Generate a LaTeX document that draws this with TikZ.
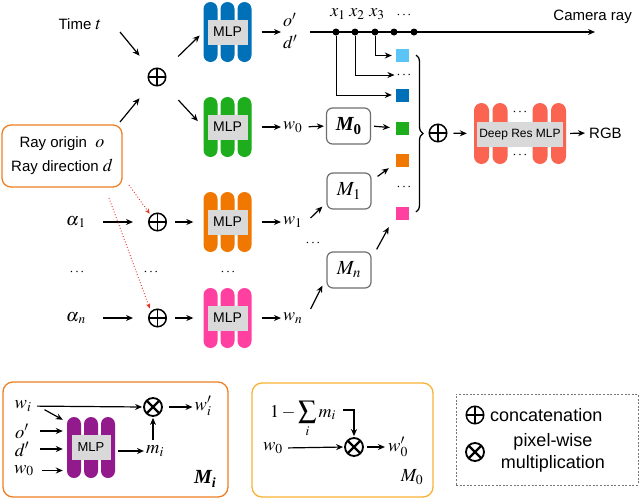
\documentclass[tikz,border=0pt]{standalone}
\usepackage{mathptmx}
\usepackage[no-math]{fontspec}
\setsansfont{Liberation Sans}
\newfontfamily\tbi{Liberation Serif}
\usetikzlibrary{arrows.meta,decorations.pathreplacing}
\definecolor{cblue}{HTML}{0070B8}
\definecolor{cgreen}{HTML}{1DAD1D}
\definecolor{corange}{HTML}{F07800}
\definecolor{cpink}{HTML}{FF40A0}
\definecolor{cpurple}{HTML}{931A8C}
\definecolor{csalmon}{HTML}{FA6450}
\definecolor{clblue}{HTML}{5BC5F7}
\definecolor{cgray}{HTML}{D9D9D9}
\definecolor{cbox}{HTML}{EF7F22}
\definecolor{cyel}{HTML}{F9B233}
\definecolor{cred}{HTML}{E83228}
\definecolor{cmbox}{HTML}{6F6F6F}
\definecolor{clegend}{HTML}{777777}
\newcommand\mv[1]{{\fontsize{18}{20}\selectfont$#1$}}
\newcommand\mlpblk[5]{%
  \foreach \dx in {-17,0,17}{\fill[#4, rounded corners=7pt] ({#2+\dx-7},{#3-#5/2}) rectangle ({#2+\dx+7},{#3+#5/2});}
  \node[graybox] (#1g) at (#2,#3) {MLP};
  \node[inner sep=0, minimum width=48pt, minimum height=#5pt] (#1) at (#2,#3) {};
}
\begin{document}
\begin{tikzpicture}[x=1pt,y=-1pt,
  arr/.style={-{Stealth[length=7pt,width=6pt]}, line width=1.2pt},
  redarr/.style={-{Stealth[length=5pt,width=4.5pt]}, draw=cred, line width=0.9pt, dotted},
  sf/.style={font=\sffamily\fontsize{15}{18}\selectfont, inner sep=1pt},
  mth/.style={font=\fontsize{18}{20}\selectfont, inner sep=0pt},
  mbot/.style={font=\fontsize{18.5}{20}\selectfont, inner sep=0pt},
  graybox/.style={fill=cgray, minimum width=40pt, minimum height=25pt, inner sep=0, font=\sffamily\fontsize{14}{16}\selectfont},
  sq/.style={minimum size=13pt, inner sep=0},
  raydot/.style={circle, fill=black, minimum size=7pt, inner sep=0},
  mbox/.style={draw=cmbox, line width=1.2pt, rounded corners=6pt, minimum width=44pt, minimum height=36pt, inner sep=0, font=\fontsize{20}{24}\selectfont},
  plus/.style={circle, draw, line width=1.5pt, minimum size=17.5pt, inner sep=0,
    path picture={\draw[line width=1.5pt] (path picture bounding box.north) -- (path picture bounding box.south) (path picture bounding box.west) -- (path picture bounding box.east);}},
  otimes/.style={circle, draw, line width=1.8pt, minimum size=18pt, inner sep=0,
    path picture={\draw[line width=2.4pt] ([shift={(-7pt,-7pt)}]path picture bounding box.center) -- ([shift={(7pt,7pt)}]path picture bounding box.center) ([shift={(-7pt,7pt)}]path picture bounding box.center) -- ([shift={(7pt,-7pt)}]path picture bounding box.center);}},
  dotsn/.style={font=\fontsize{14}{14}\selectfont, inner sep=0, text height=7pt, text depth=0pt},
  panel/.style={line width=1.3pt, rounded corners=10pt, inner sep=0}
]
\useasboundingbox[fill=white] (0,0) rectangle (640,499);

% ---------- top: time / ray ----------
\node[sf] (time) at (80,24) {Time~\mv{t}};
\coordinate (tA) at (120,32);
\node[plus] (c0) at (157,77) {};
\node[draw=cbox, line width=1.3pt, rounded corners=9pt, minimum width=120pt, minimum height=62pt, align=center, inner sep=0,
  font=\sffamily\fontsize{15}{24}\selectfont] (ray) at (62,156) {Ray origin~~\mv{o}\\Ray direction~\mv{d}};
\coordinate (rA) at (120,122);
\draw[arr, shorten >=18] (tA) -- (c0);
\draw[arr, shorten >=18] (rA) -- (c0);

\mlpblk{blue}{227.5}{32}{cblue}{60}
\mlpblk{green}{227.5}{127}{cgreen}{60}
\draw[arr, shorten <=20, shorten >=5] (c0) -- (blue.west);
\draw[arr, shorten <=22, shorten >=8] (c0) -- (green.west);

\node[mth, anchor=west, align=left, font=\fontsize{18}{22}\selectfont] (od) at (283,31) {$o'$\\$d'$};
\draw[arr, shorten <=10, shorten >=2] (blue.east) -- (blue.east -| od.west);
\node[mth, anchor=west] (w0) at (283,127) {$w_0$};
\draw[arr, shorten <=10, shorten >=2] (green.east) -- (w0.west);

% ---------- camera ray ----------
\coordinate (rayS) at (310,32);
\coordinate (rayE) at (595,32);
\draw[arr] (rayS) -- (rayE);
\node[sf, anchor=east] (cam) at (633,17) {Camera ray};
\node[raydot] (p1) at (336,32) {};
\node[raydot] (p2) at (355,32) {};
\node[raydot] (p3) at (375,32) {};
\node[raydot] (p4) at (394,32) {};
\node[raydot] (p5) at (414,32) {};
\node[mth] (lx1) at (338,14) {$x_1$};
\node[mth] (lx2) at (357,14) {$x_2$};
\node[mth] (lx3) at (377,14) {$x_3$};
\node[dotsn] (ldots) at (404,15) {$\cdots$};

% ---------- squares ----------
\node[sq, fill=clblue] (sqa) at (402.5,55.5) {};
\node[dotsn] (dd1) at (404,75) {$\cdots$};
\node[sq, fill=cblue] (sqb) at (402.5,95) {};
\node[sq, fill=cgreen] (sqc) at (402.5,128) {};
\node[sq, fill=corange] (sqd) at (402.5,160.5) {};
\node[dotsn] (dd2) at (404,187) {$\cdots$};
\node[sq, fill=cpink] (sqe) at (402.5,213.5) {};
\draw[arr, line width=1pt, shorten >=4] (p3) |- (sqa.west);
\draw[arr, line width=1pt, shorten >=2] (p2) |- (dd1.west);
\draw[arr, line width=1pt, shorten >=4] (p1) |- (sqb.west);

% ---------- M boxes ----------
\node[mbox] (M0) at (348.5,126) {{\tbi\bfseries\itshape M\raisebox{-3.5pt}{\fontsize{15}{15}\selectfont\upshape 0}}};
\node[mbox] (M1) at (349,191) {$M_1$};
\node[mbox] (Mn) at (349,270) {$M_n$};
\draw[arr, shorten <=6, shorten >=2] (w0.east) -- (M0.west);
\draw[arr, shorten <=3, shorten >=6] (M0.east) -- (sqc.west);
\draw[arr] ([shift={(6,4)}]M1.north east) -- ([shift={(-7,1)}]sqd.south west);
\draw[arr] ([shift={(5,-2)}]Mn.north east) -- ([shift={(-7,7)}]sqe.south west);

% brace and concatenation
\draw[line width=1.3pt, decorate, decoration={brace, amplitude=7pt}] (416,55) -- (416,212);
\node[plus] (cR) at (438,133) {};

% deep res MLP
\foreach \bx in {481.5,500,540,558.5}{\fill[csalmon, rounded corners=7.5pt] ({\bx-7.5},103) rectangle ({\bx+7.5},164);}
\node[fill=cgray, minimum width=86pt, minimum height=25pt, inner sep=0, font=\sffamily\fontsize{12}{14}\selectfont] (deepg) at (520,134.5) {Deep Res MLP};
\node[inner sep=0, minimum width=92pt, minimum height=61pt] (deep) at (520,133.5) {};
\node[dotsn] (ddt) at (520,112) {$\cdots$};
\node[dotsn] (ddb) at (520,155) {$\cdots$};
\node[sf, anchor=west] (rgb) at (588,133) {RGB};
\draw[arr, shorten <=6, shorten >=7] (cR) -- (deep.west);
\draw[arr, shorten <=4, shorten >=3] (deep.east) -- (rgb.west);

% ---------- alpha rows ----------
\node[mth] (a1) at (76,222) {$\alpha_{\kern1.2pt 1}$};
\node[plus] (c1) at (157.5,222) {};
\mlpblk{orange}{227.5}{222}{corange}{60}
\node[mth, anchor=west] (w1) at (283,222) {$w_1$};
\draw[arr, shorten <=17, shorten >=15] (a1.east) -- (c1);
\draw[arr, shorten <=8, shorten >=10] (c1) -- (orange.west);
\draw[arr, shorten <=10, shorten >=2] (orange.east) -- (w1.west);

\node[mth] (an) at (76,318) {$\alpha_{\kern1.2pt n}$};
\node[plus] (c2) at (157.5,318) {};
\mlpblk{pink}{227.5}{318}{cpink}{60}
\node[mth, anchor=west] (wn) at (283,318) {$w_n$};
\draw[arr, shorten <=17, shorten >=15] (an.east) -- (c2);
\draw[arr, shorten <=8, shorten >=10] (c2) -- (pink.west);
\draw[arr, shorten <=10, shorten >=2] (pink.east) -- (wn.west);

\draw[arr] ([shift={(8,-4)}]w1.east) -- ([shift={(-4,-3)}]M1.south west);
\draw[arr] ([shift={(8,-9)}]wn.east) -- ([shift={(-4,-3)}]Mn.south west);

\node[dotsn] (r1) at (77,272) {$\cdots$};
\node[dotsn] (r2) at (151,272) {$\cdots$};
\node[dotsn] (r3) at (228,272) {$\cdots$};
\node[dotsn] (r4) at (313,243) {$\cdots$};

% red dotted arrows
\coordinate (q1) at (129,185);
\coordinate (q2) at (109,198);
\draw[redarr, shorten >=2] (q1) -- (c1.north west);
\draw[redarr, shorten >=3] (q2) -- (c2.north west);

% ---------- panel M_i ----------
\node[panel, draw=cbox, minimum width=225pt, minimum height=115pt] (pMi) at (115.5,439.5) {};
\node[mbot] (wi) at (23,406) {$w_i$};
\node[mbot] (ob) at (22,431) {$o'$};
\node[mbot] (db) at (22,449) {$d'$};
\node[mbot] (w0b) at (24,470.5) {$w_0$};
\foreach \dx in {-17,0,17}{\fill[cpurple, rounded corners=7pt] ({91+\dx-7},417) rectangle ({91+\dx+7},478);}
\node[graybox, minimum width=39pt, font=\sffamily\fontsize{13}{15}\selectfont] (pmg) at (91,447.5) {MLP};
\node[inner sep=0, minimum width=48pt, minimum height=61pt] (pm) at (91,447.5) {};
\node[otimes] (x1) at (153,407) {};
\node[mbot] (mi) at (155,451) {$m_i$};
\node[mbot] (wip) at (203,406) {$w_i'$};
\node[inner sep=0] (Mil) at (205,479) {{\tbi\bfseries\itshape\fontsize{20}{24}\selectfont M\raisebox{-3.5pt}{\fontsize{14}{14}\selectfont i}}};
\draw[arr, shorten <=14, shorten >=1] (wi.center) -- (x1.west);
\draw[arr] ([shift={(13,-2)}]wi.south east) -- ([shift={(-4,3)}]pm.north west);
\draw[arr, shorten <=18, shorten >=4] (ob.center) -- (ob -| pm.west);
\draw[arr, shorten <=18, shorten >=4] (db.center) -- (db -| pm.west);
\draw[arr, shorten <=18, shorten >=4] (w0b.center) -- (w0b -| pm.west);
\draw[arr, shorten <=3, shorten >=2] (pm.east |- mi.west) -- (mi.west);
\draw[arr, shorten <=5, shorten >=1] (x1 |- mi.north) -- (x1.south);
\draw[arr, shorten <=6, shorten >=2] (x1.east) -- (wip.west |- x1);

% ---------- panel M_0 ----------
\node[panel, draw=cyel, minimum width=181pt, minimum height=114pt] (pM0) at (342.5,440) {};
\node[mth, anchor=base, font=\fontsize{18}{22}\selectfont] (sum) at (303,417) {$1-\displaystyle\sum_i m_i$};
\coordinate (sumE) at (343,410);
\node[otimes] (x2) at (354,447) {};
\node[mbot] (w0c) at (273,448) {$w_0$};
\node[mbot] (w0p) at (398,447) {$w_0'$};
\node[mbot] (M0l) at (412,477) {$M_0$};
\draw[arr, shorten >=1] (sumE) -| (x2.north);
\draw[arr, shorten <=5, shorten >=1] (w0c.east) -- (x2.west);
\draw[arr, shorten <=3, shorten >=3] (x2.east) -- (w0p.west |- x2);

% ---------- legend ----------
\node[draw=clegend, line width=1pt, dash pattern=on 2pt off 1.6pt, minimum width=182pt, minimum height=91pt, inner sep=0] (leg) at (547,439.5) {};
\node[plus] (lp) at (475,415) {};
\node[sf, anchor=west, font=\sffamily\fontsize{18}{21}\selectfont] (lpt) at (489,415) {concatenation};
\node[otimes] (lt) at (475,452) {};
\node[sf, align=center, font=\sffamily\fontsize{18}{22}\selectfont] (ltt) at (553,453) {pixel-wise\\multiplication};
\end{tikzpicture}
\end{document}
